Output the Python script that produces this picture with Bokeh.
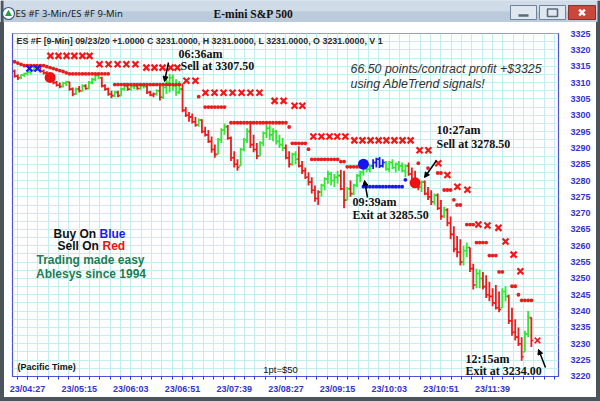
from bokeh.plotting import figure
from bokeh.models import Range1d, FixedTicker, Label, Arrow, NormalHead, Spacer
from bokeh.layouts import column, row
from bokeh.embed import file_html
from bokeh.resources import INLINE
from bokeh.core.properties import value

# ---------------- data ----------------
# 3-minute bars of 09/23/20, bar index 0 = 04:15 (Pacific)
tick_bar = [4, 20, 36, 52, 68, 84, 100, 116, 132, 148]
tick_labels = ["23/04:27", "23/05:15", "23/06:03", "23/06:51", "23/07:39",
               "23/08:27", "23/09:15", "23/10:03", "23/10:51", "23/11:39"]
price_ticks = [3220, 3225, 3230, 3235, 3240, 3245, 3250, 3255, 3260, 3265, 3270,
               3275, 3280, 3285, 3290, 3295, 3300, 3305, 3310, 3315, 3320, 3325]

high = [
    3314.0, 3312.5, 3312.5, 3313.0, 3313.5, 3314.0, 3315.0, 3315.5, 3315.2, 3314.0,
    3313.5, 3311.8, 3311.0, 3310.5, 3310.0, 3310.3, 3310.6, 3310.3, 3308.5, 3308.5,
    3309.0, 3309.5, 3309.5, 3310.5, 3311.5, 3312.7, 3313.0, 3311.8, 3309.5, 3308.5,
    3307.5, 3307.5, 3307.5, 3308.5, 3309.5, 3309.5, 3309.0, 3309.5, 3309.5, 3309.3,
    3309.5, 3309.2, 3307.5, 3307.0, 3308.0, 3309.5, 3309.0, 3311.5, 3312.7, 3312.5,
    3311.0, 3310.5, 3309.7, 3302.5, 3301.0, 3300.5, 3299.5, 3299.0, 3298.8, 3296.5,
    3295.5, 3293.5, 3291.0, 3293.0, 3296.0, 3297.5, 3297.0, 3293.5, 3289.0, 3286.5,
    3290.0, 3293.0, 3296.0, 3297.8, 3294.0, 3291.5, 3292.0, 3295.0, 3297.0, 3296.9,
    3296.0, 3295.5, 3294.0, 3293.0, 3291.0, 3289.0, 3288.5, 3289.0, 3290.5, 3286.0,
    3284.0, 3282.5, 3281.0, 3278.5, 3277.0, 3279.0, 3281.0, 3283.0, 3282.6, 3282.0,
    3283.0, 3283.3, 3283.0, 3278.0, 3280.0, 3279.0, 3282.0, 3283.0, 3285.5, 3286.0,
    3285.0, 3286.5, 3287.0, 3287.2, 3286.5, 3286.0, 3286.0, 3286.5, 3285.5, 3286.0,
    3285.5, 3285.0, 3285.5, 3284.0, 3283.0, 3280.5, 3280.0, 3280.0, 3278.0, 3277.0,
    3276.0, 3276.0, 3274.0, 3272.0, 3271.5, 3269.0, 3266.0, 3263.0, 3262.0, 3260.0,
    3261.0, 3259.5, 3254.5, 3253.0, 3252.7, 3252.0, 3251.0, 3249.0, 3247.0, 3248.0,
    3246.0, 3247.0, 3247.6, 3245.0, 3241.0, 3237.5, 3235.0, 3232.0, 3234.0, 3240.0,
    3238.0]
low = [
    3311.5, 3310.8, 3311.0, 3311.8, 3312.2, 3312.5, 3313.3, 3313.8, 3313.0, 3312.5,
    3311.2, 3310.0, 3309.5, 3308.8, 3308.3, 3308.5, 3309.0, 3307.5, 3305.8, 3306.2,
    3307.0, 3307.2, 3307.8, 3308.0, 3309.5, 3310.5, 3311.0, 3308.5, 3307.5, 3306.0,
    3305.2, 3305.5, 3305.5, 3306.0, 3307.5, 3307.5, 3307.5, 3308.0, 3307.8, 3307.8,
    3308.2, 3306.5, 3305.8, 3305.5, 3306.0, 3304.5, 3305.0, 3306.5, 3307.0, 3307.5,
    3306.0, 3306.5, 3300.9, 3299.5, 3298.0, 3297.5, 3296.5, 3296.5, 3294.5, 3293.5,
    3291.5, 3288.5, 3287.0, 3288.0, 3291.5, 3294.0, 3292.5, 3286.0, 3284.0, 3283.0,
    3284.5, 3289.0, 3291.5, 3290.0, 3288.7, 3286.5, 3287.5, 3290.5, 3293.0, 3292.5,
    3292.0, 3291.0, 3290.0, 3289.0, 3286.5, 3284.0, 3284.5, 3285.0, 3284.0, 3282.0,
    3280.5, 3278.5, 3276.0, 3273.5, 3272.5, 3275.0, 3277.0, 3279.0, 3278.5, 3278.0,
    3279.0, 3277.0, 3271.5, 3274.0, 3275.0, 3275.5, 3278.0, 3279.5, 3281.5, 3282.5,
    3282.5, 3283.5, 3284.0, 3283.8, 3284.0, 3283.0, 3282.5, 3283.5, 3282.5, 3283.0,
    3282.5, 3281.0, 3281.5, 3279.0, 3278.0, 3277.0, 3276.5, 3275.5, 3274.0, 3272.5,
    3272.5, 3271.0, 3268.0, 3268.5, 3266.0, 3262.0, 3258.0, 3256.5, 3254.0, 3254.0,
    3256.5, 3252.0, 3246.6, 3247.0, 3247.0, 3246.6, 3244.0, 3243.0, 3241.5, 3240.5,
    3239.6, 3241.0, 3243.0, 3236.0, 3232.4, 3231.0, 3229.3, 3224.8, 3227.5, 3232.0,
    3229.0]
close = [
    3312.0, 3311.5, 3312.3, 3312.8, 3313.2, 3313.8, 3314.6, 3315.0, 3313.5, 3313.0,
    3311.7, 3310.5, 3310.0, 3309.2, 3308.8, 3309.8, 3310.2, 3308.0, 3306.5, 3308.0,
    3307.5, 3309.0, 3308.2, 3310.0, 3311.0, 3312.2, 3311.5, 3309.0, 3308.0, 3306.5,
    3306.0, 3307.0, 3306.0, 3308.0, 3309.0, 3308.0, 3308.8, 3309.0, 3308.2, 3309.0,
    3308.8, 3307.0, 3306.2, 3306.5, 3307.5, 3305.5, 3308.5, 3310.0, 3311.5, 3309.0,
    3307.0, 3308.0, 3301.5, 3300.0, 3299.5, 3298.0, 3297.0, 3298.5, 3295.0, 3294.0,
    3292.0, 3289.5, 3288.0, 3292.5, 3295.5, 3296.5, 3293.0, 3287.0, 3285.0, 3284.0,
    3289.5, 3292.5, 3295.0, 3291.0, 3289.5, 3287.5, 3291.5, 3294.5, 3296.0, 3294.0,
    3295.0, 3292.0, 3291.0, 3290.0, 3287.0, 3285.0, 3288.0, 3286.5, 3284.5, 3283.0,
    3281.0, 3279.5, 3277.0, 3274.5, 3276.5, 3278.5, 3280.5, 3282.0, 3280.0, 3281.0,
    3281.5, 3277.5, 3274.0, 3277.5, 3276.0, 3278.5, 3281.5, 3282.5, 3285.0, 3283.5,
    3284.5, 3285.5, 3286.5, 3284.5, 3285.5, 3283.5, 3285.5, 3284.0, 3285.0, 3284.5,
    3283.0, 3284.5, 3282.0, 3280.0, 3279.0, 3278.0, 3279.5, 3276.0, 3275.0, 3273.5,
    3275.5, 3271.5, 3269.0, 3271.0, 3267.0, 3263.5, 3259.0, 3258.0, 3255.0, 3258.5,
    3259.5, 3253.0, 3248.0, 3251.5, 3250.0, 3247.5, 3245.0, 3244.5, 3242.5, 3241.0,
    3240.5, 3246.0, 3244.5, 3237.0, 3233.5, 3232.0, 3230.0, 3226.0, 3233.0, 3238.0,
    3231.0]
first_open = 3313.5
# r = down trend (red), g = neutral (green), b = up trend (blue)
bar_colour = ("rrggggggrr" "rrrrrggrrg" "rgrggggrrr" "rgrggrggrg" "grrrgrgggg"
              "ggrrrrrgrr" "rrrgggrrrr" "gggrrrgggg" "ggggrrggrr" "rrrrrggggg"
              "grrgrggggg" "gbbbbggggg" "ggrrrrgrrr" "grrgrrrrrg" "grrggrrrrr"
              "rggrrrrrgg" "r")

# red X stops (9-min)
stop_x_bar = [11.1, 13.6, 16.1, 18.5, 21.0, 23.2, 26.3, 29.1, 31.9, 34.6, 37.4,
              40.8, 43.3, 45.8, 48.3, 50.4, 53.2, 56.0, 59.1, 61.9, 64.7, 67.5,
              70.3, 73.0, 75.8, 80.5, 83.3, 86.7, 89.1, 92.5, 95.0, 97.5, 99.9,
              102.4, 105.2, 107.7, 110.2, 112.7, 115.1, 117.6, 120.1, 122.6, 125.4,
              128.1, 131.2, 134.0, 137.1, 140.2, 143.6, 146.4, 149.8, 152.0, 154.5,
              156.6]
stop_x_price = [3318.2, 3318.2, 3318.2, 3318.2, 3318.2, 3318.2, 3315.6, 3315.6,
                3315.6, 3315.6, 3315.6, 3314.6, 3314.6, 3314.6, 3314.6, 3314.6,
                3310.6, 3310.6, 3306.9, 3306.9, 3306.9, 3306.9, 3306.9, 3306.9,
                3306.9, 3304.4, 3304.4, 3302.9, 3302.9, 3293.5, 3293.5, 3293.5,
                3293.5, 3293.5, 3292.3, 3292.3, 3292.3, 3292.3, 3292.3, 3292.3,
                3292.3, 3292.3, 3289.3, 3289.3, 3285.3, 3281.7, 3278.1, 3277.2,
                3266.5, 3266.2, 3265.5, 3261.3, 3257.3, 3252.2]
blue_x_bar = [4.6, 7.1]
blue_x_price = [3314.3, 3314.3]

# 3-min stop dots: (first bar, last bar, price)
red_dot_runs = [(0, 0, 3316.4), (1, 1, 3316.0), (2, 2, 3315.6), (3, 9, 3315.2),
                (10, 10, 3314.9), (11, 11, 3314.6), (12, 12, 3314.3), (13, 13, 3314.0),
                (14, 14, 3313.7), (15, 15, 3313.4), (16, 16, 3313.0), (17, 29, 3312.7),
                (31, 51, 3309.4), (57, 57, 3305.7), (59, 65, 3302.5), (67, 84, 3297.7),
                (85, 85, 3296.4), (86, 90, 3291.4), (91, 91, 3289.6), (92, 100, 3286.5),
                (101, 102, 3285.8), (103, 107, 3284.2), (125, 125, 3285.3),
                (128, 128, 3283.8), (131, 132, 3282.3), (133, 135, 3277.1),
                (136, 136, 3274.1), (137, 138, 3272.5), (140, 142, 3266.5),
                (143, 146, 3261.0), (147, 149, 3257.0), (150, 151, 3252.0),
                (154, 155, 3247.6), (156, 156, 3245.0), (157, 160, 3243.3)]
blue_dot_runs = [(108, 120, 3278.1), (121, 121, 3280.2)]

signal_bar = [11, 108, 124]
signal_price = [3311.6, 3285.0, 3279.3]
signal_colour = ["#ee1111", "#1515ee", "#ee1111"]
exit_bar = [161.9]
exit_price = [3231.0]
last_price = 3231.22

# ---------------- styles ----------------
RED = "#ea1c1c"
GREEN = "#33e633"
BLUE = "#1a1aee"
AXBLUE = "#3333cc"
FRAME = "#4a52d8"
WIN = "#4b535d"
colour_of = {"r": RED, "g": GREEN, "b": BLUE}

# ---------------- title bar ----------------
tb = figure(width=600, height=22, x_range=Range1d(0, 600), y_range=Range1d(0, 22),
            output_backend="svg", toolbar_location=None, min_border=0,
            background_fill_color="#c4d3e2", border_fill_color="#c4d3e2",
            outline_line_color=None)
tb.axis.visible = False
tb.grid.visible = False
tb.quad(left=[0], right=[600], bottom=[11], top=[22], fill_color="#cfdbe7", line_color=None)
tb.quad(left=[0], right=[600], bottom=[0], top=[11], fill_color="#bccbdb", line_color=None)
tb.quad(left=[0], right=[3], bottom=[0], top=[22], fill_color=WIN, line_color=None)
tb.quad(left=[597], right=[600], bottom=[0], top=[22], fill_color=WIN, line_color=None)
tb.scatter(x=[8], y=[9], marker="circle", size=12, fill_color="#ffffff", line_color="#2b5f86", line_width=1.2)
tb.scatter(x=[8], y=[8.6], marker="triangle", size=7, fill_color="#2f9a4a", line_color=None)
tb.text(x=[15], y=[9], text=["ES #F 3-Min/ES #F 9-Min"], text_font=value("Noto Sans"),
        text_font_size="9.5px", text_baseline="middle", text_color="#1b1b1b")
tb.text(x=[253], y=[9], text=["E-mini S&P 500"], text_font=value("Liberation Serif"),
        text_font_style="bold", text_font_size="11.5px", text_align="center",
        text_baseline="middle", text_color="#111111")
tb.quad(left=[510, 539], right=[536, 565], bottom=[3, 3], top=[17, 17],
        fill_color="#dfe7ef", line_color="#71839a")
tb.quad(left=[568], right=[595], bottom=[3], top=[17], fill_color="#c9473b", line_color="#8a3028")
tb.segment(x0=[518], y0=[7], x1=[528], y1=[7], line_color="#5a6a7e", line_width=2.5)
tb.quad(left=[547], right=[557], bottom=[6], top=[13.5], fill_color=None, line_color="#5a6a7e", line_width=1.6)
tb.scatter(x=[581.5], y=[10], marker="x", size=8, line_color="white", line_width=2.5)

# ---------------- chart ----------------
p = figure(width=592, height=375, x_range=Range1d(-0.65, 168.4),
           y_range=Range1d(3219.95, 3325.05), y_axis_location="right",
           output_backend="svg", toolbar_location=None,
           min_border_left=8, min_border_right=38, min_border_top=11, min_border_bottom=21,
           background_fill_color="white", border_fill_color="white",
           outline_line_color=FRAME, outline_line_width=1.2)

minor_ticks = [4 + 3.2 * i for i in range(-1, 52)]
p.xaxis.ticker = FixedTicker(ticks=tick_bar, minor_ticks=minor_ticks)
p.xaxis.major_label_overrides = {b: s for b, s in zip(tick_bar, tick_labels)}
p.xaxis.axis_line_color = FRAME
p.xaxis.major_tick_line_color = AXBLUE
p.xaxis.minor_tick_line_color = AXBLUE
p.xaxis.major_tick_in = 0
p.xaxis.major_tick_out = 3
p.xaxis.minor_tick_in = 0
p.xaxis.minor_tick_out = 3
p.xaxis.major_label_standoff = 4
p.xaxis.major_label_text_font = "Liberation Sans"
p.xaxis.major_label_text_font_style = "bold"
p.xaxis.major_label_text_font_size = "9px"
p.xaxis.major_label_text_color = AXBLUE

p.yaxis.ticker = FixedTicker(ticks=price_ticks)
p.yaxis.axis_line_color = None
p.yaxis.major_tick_line_color = None
p.yaxis.minor_tick_line_color = None
p.yaxis.major_label_standoff = 6
p.yaxis.major_label_text_font = "Liberation Sans"
p.yaxis.major_label_text_font_style = "bold"
p.yaxis.major_label_text_font_size = "9px"
p.yaxis.major_label_text_color = AXBLUE

p.xgrid.ticker = FixedTicker(ticks=minor_ticks)
p.ygrid.ticker = FixedTicker(ticks=[3220 + 2.5 * i for i in range(43)])
p.grid.grid_line_color = "#c2eef0"
p.grid.grid_line_width = 1

# OHLC bars
n = len(close)
xs = list(range(n))
opens = [first_open] + close[:-1]
opens = [min(max(o, lo), hi) for o, lo, hi in zip(opens, low, high)]
cols = [colour_of[c] for c in bar_colour]
p.segment(x0=xs, y0=low, x1=xs, y1=high, line_color=cols, line_width=1.8)
p.segment(x0=[x - 0.6 for x in xs], y0=opens, x1=xs, y1=opens, line_color=cols, line_width=1.6)
p.segment(x0=xs, y0=close, x1=[x + 0.6 for x in xs], y1=close, line_color=cols, line_width=1.6)

# stop dots
rdx, rdy = [], []
for a, b, pv in red_dot_runs:
    for k in range(a, b + 1):
        rdx.append(k)
        rdy.append(pv)
bdx, bdy = [], []
for a, b, pv in blue_dot_runs:
    for k in range(a, b + 1):
        bdx.append(k)
        bdy.append(pv)
p.scatter(x=rdx, y=rdy, marker="circle", size=3.8, fill_color=RED, line_color=None)
p.scatter(x=bdx, y=bdy, marker="circle", size=3.8, fill_color=BLUE, line_color=None)

# X stops
p.scatter(x=stop_x_bar, y=stop_x_price, marker="x", size=8.5, line_color="#f01818", line_width=2.2)
p.scatter(x=blue_x_bar, y=blue_x_price, marker="x", size=8.5, line_color=BLUE, line_width=2.2)
p.scatter(x=exit_bar, y=exit_price, marker="x", size=8, line_color="#f01818", line_width=1.6)

# signals
p.scatter(x=signal_bar, y=signal_price, marker="circle", size=11, fill_color=signal_colour, line_color=None)

# ---------------- texts ----------------
def lab(text, x, y, size="12px", font="Liberation Serif", style="bold", color="#111111", align="left"):
    p.add_layout(Label(x=x, y=y, x_units="screen", y_units="screen", text=text,
                       text_font=font, text_font_size=size, text_font_style=style,
                       text_color=color, text_align=align, text_baseline="middle"))

lab("ES #F [9-Min] 09/23/20 +1.0000 C 3231.0000, H 3231.0000, L 3231.0000, O 3231.0000, V 1",
    4, 336, size="8.9px", font="Liberation Sans", color="#2a2a2a")
lab("06:36am", 166, 323)
lab("Sell at 3307.50", 168, 311)
lab("66.50 points/contract profit +$3325", 338, 308, size="12.4px", font="Liberation Sans", style="italic", color="#333333")
lab("using AbleTrend signals!", 338, 293, size="12.4px", font="Liberation Sans", style="italic", color="#333333")
lab("10:27am", 424, 247)
lab("Sell at 3278.50", 424, 233)
lab("09:39am", 340, 175)
lab("Exit at 3285.50", 340, 162)
lab("12:15am", 453, 18)
lab("Exit at 3234.00", 453, 6)
lab("Buy On", 41, 143, font="Liberation Sans", color="#111111")
lab("Blue", 87, 143, font="Liberation Sans", color="#1a1aee")
lab("Sell On", 45, 130.5, font="Liberation Sans", color="#111111")
lab("Red", 90, 130.5, font="Liberation Sans", color="#ee1111")
lab("Trading made easy", 78, 117, font="Liberation Sans", color="#1e7b55", align="center")
lab("Ablesys since 1994", 78.5, 103, font="Liberation Sans", color="#1e7b55", align="center")
lab("(Pacific Time)", 5, 10, size="9px", font="Liberation Sans", color="#111111")
lab("1pt=$50", 268, 7, size="9.5px", font="Liberation Sans", style="normal", color="#111111", align="center")

p.add_layout(Label(x=547, y=last_price, x_units="screen", y_units="data", text=" 3231.22 ",
                   text_font="Liberation Sans", text_font_size="9px", text_font_style="bold",
                   text_color="#e6e6e6", background_fill_color="#e41f26",
                   text_align="left", text_baseline="middle"))

for (xs0, ys0, xs1, ys1) in [(156, 314, 152, 295), (424, 216, 412, 199),
                             (355, 179, 352, 196), (533, 9, 526, 27)]:
    p.add_layout(Arrow(end=NormalHead(size=5, fill_color="black", line_color="black"),
                       x_start=xs0, y_start=ys0, x_end=xs1, y_end=ys1,
                       start_units="screen", end_units="screen",
                       line_color="black", line_width=1.5))

left_edge = Spacer(width=4, height=375, styles={"background-color": WIN})
right_edge = Spacer(width=4, height=375, styles={"background-color": WIN})
bottom_edge = Spacer(width=600, height=4, styles={"background-color": WIN})
layout = column(tb, row(left_edge, p, right_edge, spacing=0), bottom_edge, spacing=0)
open("out.html", "w").write(file_html(layout, INLINE))
